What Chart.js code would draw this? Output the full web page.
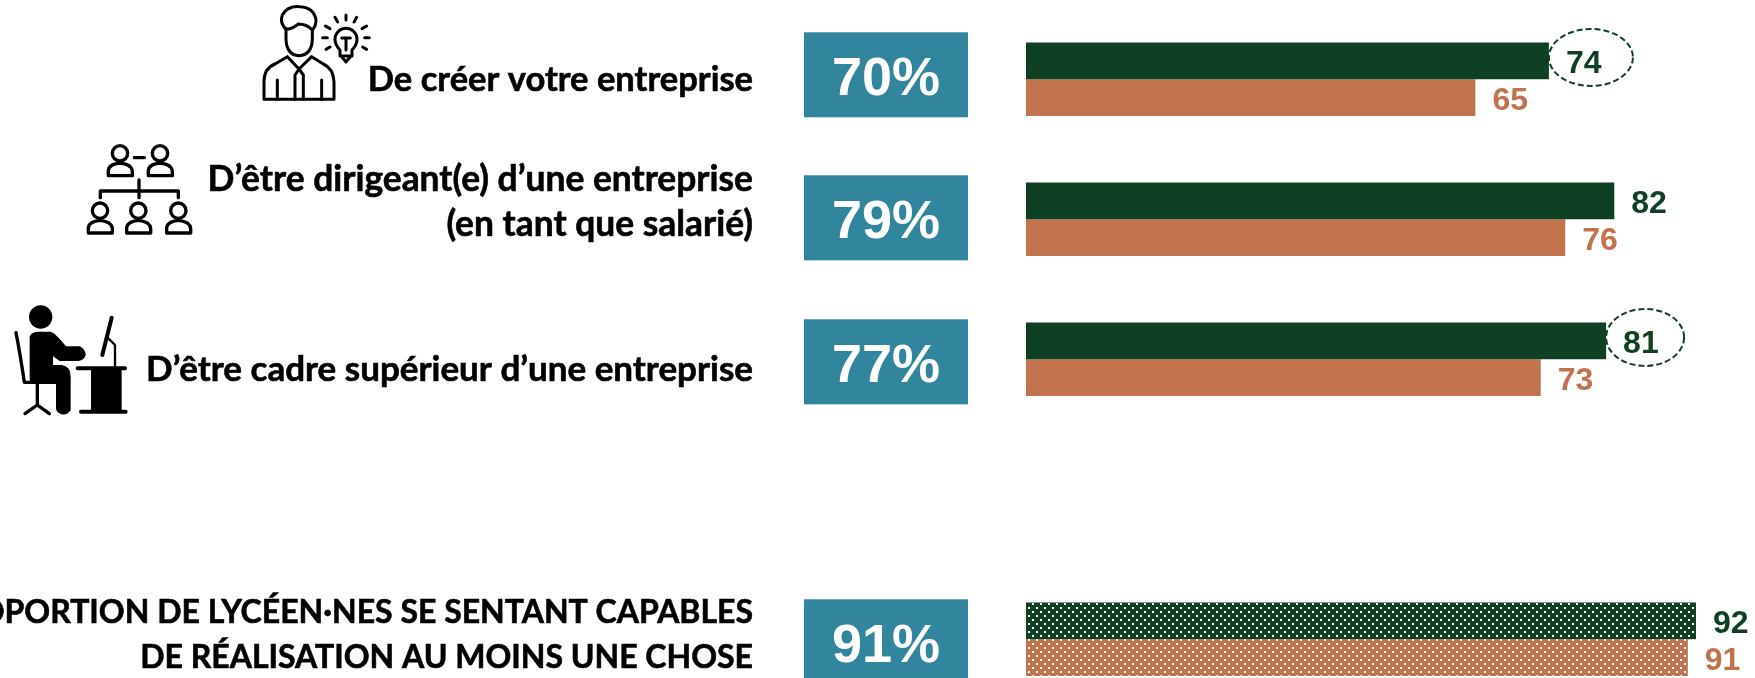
<!DOCTYPE html>
<html lang="fr">
<head>
<meta charset="utf-8">
<title>Lycéen·nes</title>
<script src="https://cdn.jsdelivr.net/npm/chart.js@4"></script>
<style>
    html, body { margin: 0; padding: 0; background: #fff; overflow: hidden; }
    #wrap { position: relative; width: 1755px; height: 678px; overflow: hidden; }
    #chart { position: absolute; left: 0; top: 0; }
    svg { position: absolute; fill: none; stroke: #000; stroke-linecap: round; stroke-linejoin: round; }
</style>
</head>
<body>
<div id="wrap">
    <canvas id="chart" width="1755" height="678"></canvas>

    <!-- icone entrepreneur -->
    <svg style="left:250px;top:0" width="130" height="110" viewBox="0 0 390 330" stroke-width="9">
        <path d="M108 85V118Q110 165 147 167Q185 165 187 118V88"/>
        <path d="M108 88Q88 68 97 45Q112 17 150 20Q192 22 198 60Q198 78 187 90Q170 72 145 72Q125 88 108 88Z"/>
        <path d="M42 298H252M42 298V245Q42 205 75 192L112 170L147 207L185 170L220 192Q250 205 252 245V298"/>
        <path d="M82 240V298M215 240V298M147 207L135 225V298M147 207L160 225V298"/>
        <path d="M270 150Q255 135 255 118A33 33 0 1 1 321 118Q321 135 306 150V168H270ZM276 172L288 186L300 172M288 150V118M275 114H301"/>
        <path d="M288 45V60M320 52L312 66M350 78L336 86M358 113H344M350 148L338 141M226 78L240 86M218 113H232M228 148L240 141M255 52L263 66"/>
    </svg>

    <!-- icone organigramme -->
    <svg style="left:75px;top:135px" width="130" height="110" viewBox="0 0 390 330" stroke-width="10">
        <defs>
            <g id="person">
                <circle cx="135" cy="55" r="23"/>
                <path d="M100 122V108Q100 88 135 84Q170 88 172 108V122Z"/>
            </g>
        </defs>
        <use href="#person"/>
        <use href="#person" x="120"/>
        <use href="#person" x="-60" y="172"/>
        <use href="#person" x="55" y="172"/>
        <use href="#person" x="175" y="172"/>
        <path d="M178 68H208M192 135V188M76 188V168H310V188"/>
    </svg>

    <!-- icone bureau -->
    <svg style="left:5px;top:295px" width="130" height="125" viewBox="0 0 390 375" stroke-width="10">
        <circle cx="107" cy="66" r="35" fill="#000" stroke="none"/>
        <path fill="#000" stroke-width="4" d="M76 130Q76 112 100 112H135Q147 112 182 156H225Q240 165 240 180Q235 196 215 196H165L142 180V212H170Q195 216 195 245V345Q185 360 170 356Q155 350 155 340V265H88Q76 265 76 250Z"/>
        <path d="M33 113Q46 180 58 262H130M97 265V330M60 356L97 330L133 356"/>
        <path stroke-width="12" d="M218 220H360M228 350H362M320 68L292 180"/>
        <path fill="#000" stroke="none" d="M258 222H350V346H258Z"/>
        <path stroke-width="7" d="M310 130L330 150V214"/>
    </svg>
</div>

<script>
// donnees
const categories = [
    ['De créer votre entreprise'],
    ['D’être dirigeant(e) d’une entreprise', '(en tant que salarié)'],
    ['D’être cadre supérieur d’une entreprise'],
    [],
    ['PROPORTION DE LYCÉEN·NES SE SENTANT CAPABLES', 'DE RÉALISATION AU MOINS UNE CHOSE']
];
const totals = [70, 79, 77, null, 91];
const seriesGreen = [74, 82, 81, null, 92];
const seriesOrange = [65, 76, 73, null, 91];
const circled = [0, 2];     // valeurs entourees en pointilles
const dotted = [4];         // barres tramees

const GREEN = '#104024';
const ORANGE = '#C1734D';
const TEAL = '#31859C';

// reglages de mise en page
const AXIS_MIN = 10;
const LABEL_RIGHT = 753;
const LINE_H = 45;
const labelSize = [34.5, 35.4, 35, 0, 32];
const labelDy = [12, 17, 22, 0, 29];    // base de la derniere ligne / centre du groupe
const boxDy = [-47, -44, -40, 0, -40];
const circleRx = [42, 0, 39];
const BOX_LEFT = 804, BOX_W = 164, BOX_H = 85;

function dotPattern(color) {
    const c = document.createElement('canvas');
    c.width = 8;
    c.height = 8;
    const g = c.getContext('2d');
    g.fillStyle = color;
    g.fillRect(0, 0, 8, 8);
    g.fillStyle = '#fff';
    g.fillRect(0, 3, 2, 2);
    g.fillRect(4, 7, 2, 1);
    g.fillRect(4, 0, 2, 1);
    return g.createPattern(c, 'repeat');
}

function barColors(color) {
    const pat = dotPattern(color);
    return categories.map((_, i) => dotted.includes(i) ? pat : color);
}

const decorPlugin = {
    id: 'decor',
    afterDatasetsDraw(chart) {
        const ctx = chart.ctx;
        const yScale = chart.scales.y;
        ctx.save();

        categories.forEach((lines, i) => {
            if (totals[i] === null) return;
            const cy = yScale.getPixelForValue(i);

            // libelle a gauche
            ctx.fillStyle = '#000';
            ctx.strokeStyle = '#000';
            ctx.lineWidth = 0.6;
            ctx.font = '700 ' + labelSize[i] + 'px Lato';
            ctx.textAlign = 'right';
            ctx.textBaseline = 'alphabetic';
            lines.forEach((line, k) => {
                const y = cy + labelDy[i] - (lines.length - 1 - k) * LINE_H;
                ctx.fillText(line, LABEL_RIGHT, y);
                ctx.strokeText(line, LABEL_RIGHT, y);
            });

            // total dans la boite
            const top = cy + boxDy[i];
            ctx.fillStyle = TEAL;
            ctx.fillRect(BOX_LEFT, top, BOX_W, BOX_H);
            ctx.fillStyle = '#fff';
            ctx.font = '700 54px "Liberation Sans"';
            ctx.textAlign = 'center';
            ctx.fillText(totals[i] + '%', BOX_LEFT + BOX_W / 2, top + 63);
        });

        // valeurs au bout des barres
        chart.data.datasets.forEach((ds, d) => {
            chart.getDatasetMeta(d).data.forEach((bar, i) => {
                if (ds.data[i] === null) return;
                ctx.fillStyle = ds.labelColor;
                ctx.font = '700 32px "Liberation Sans"';
                ctx.textAlign = 'left';
                ctx.textBaseline = 'alphabetic';
                ctx.fillText(ds.data[i], bar.x + 17, bar.y + 12);

                if (d === 0 && circled.includes(i)) {
                    ctx.strokeStyle = GREEN;
                    ctx.lineWidth = 2;
                    ctx.setLineDash([6, 3]);
                    ctx.beginPath();
                    ctx.ellipse(bar.x + circleRx[i], bar.y - 3.5, circleRx[i], 28.5, 0, 0, Math.PI * 2);
                    ctx.stroke();
                    ctx.setLineDash([]);
                }
            });
        });

        ctx.restore();
    }
};

new Chart(document.getElementById('chart').getContext('2d'), {
    type: 'bar',
    data: {
        labels: categories,
        datasets: [
            { label: 'A', data: seriesGreen, base: AXIS_MIN, backgroundColor: barColors(GREEN), labelColor: GREEN, clip: false },
            { label: 'B', data: seriesOrange, base: AXIS_MIN, backgroundColor: barColors(ORANGE), labelColor: ORANGE, clip: false }
        ]
    },
    options: {
        indexAxis: 'y',
        animation: false,
        responsive: false,
        categoryPercentage: 0.524,
        barPercentage: 1,
        layout: { padding: { left: 1026, right: 10, top: 79.3, bottom: 38.7 } },
        plugins: { legend: { display: false }, tooltip: { enabled: false } },
        scales: {
            x: { display: false, min: AXIS_MIN, max: 98 },
            y: { display: false, offset: false }
        }
    },
    plugins: [decorPlugin]
});
</script>
</body>
</html>
